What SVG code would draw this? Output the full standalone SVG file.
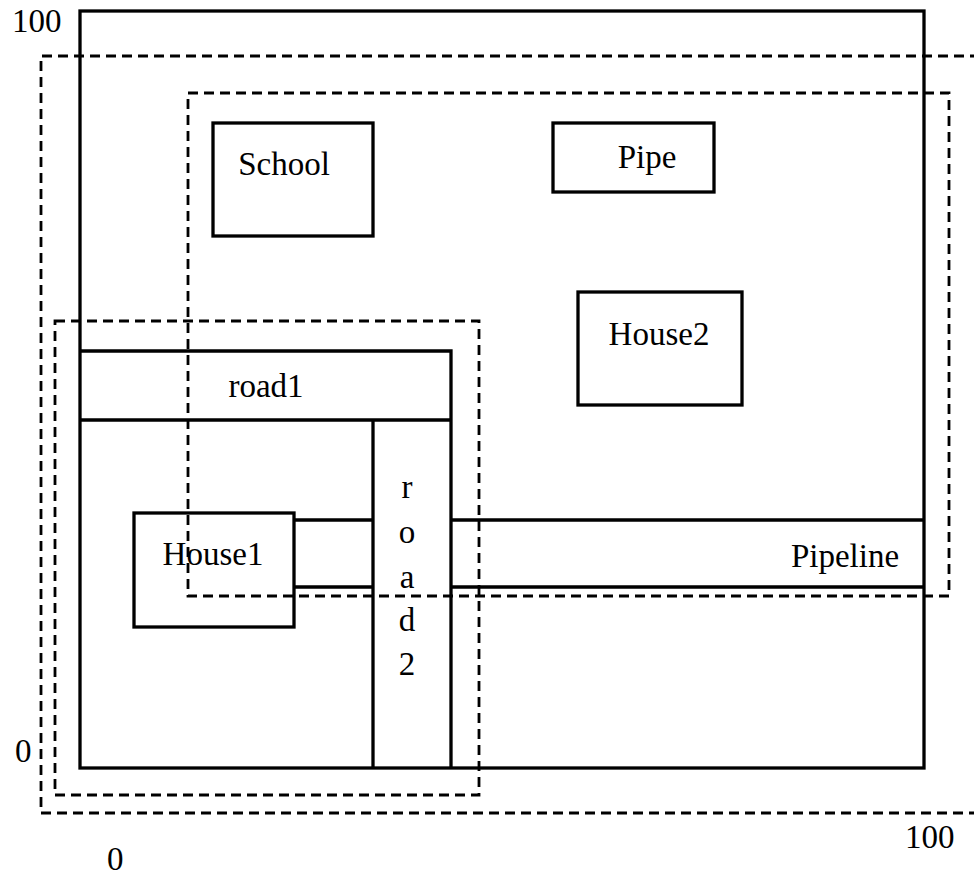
<svg xmlns="http://www.w3.org/2000/svg" width="974" height="877" viewBox="0 0 974 877">
<style>
.s{fill:none;stroke:#000;stroke-width:3.3}
.d{fill:none;stroke:#000;stroke-width:2.8;stroke-dasharray:10 6}
text{font-family:"Liberation Serif","Times New Roman",serif;font-size:33px;fill:#000}
.c{text-anchor:middle}
</style>
<rect width="974" height="877" fill="#fff"/>
<g id="region">
<rect class="s" x="80" y="11" width="844" height="757"/>
</g>
<g id="dashed-outer"><path class="d" d="M980 56 H41 V813 H980"/></g>
<g id="dashed-inner"><rect class="d" x="188" y="93" width="761" height="503"/></g>
<g id="dashed-small"><rect class="d" x="55" y="321" width="424" height="474"/></g>
<g id="road1">
<path class="s" d="M80 351 H451 V768 M80 420 H451"/>
<text class="c" x="266" y="397">road1</text>
</g>
<g id="road2">
<path class="s" d="M373 420 V768"/>
<text class="c" x="407" y="498">r</text>
<text class="c" x="407" y="543">o</text>
<text class="c" x="407" y="588">a</text>
<text class="c" x="407" y="631">d</text>
<text class="c" x="407" y="675">2</text>
</g>
<g id="pipeline">
<path class="s" d="M294 520 H373 M294 587 H373 M452 520 H924 M452 587 H924"/>
<text class="c" x="845" y="567">Pipeline</text>
</g>
<g id="school">
<rect class="s" x="213" y="123" width="160" height="113"/>
<text class="c" x="284" y="175">School</text>
</g>
<g id="pipe">
<rect class="s" x="553" y="123" width="161" height="69"/>
<text class="c" x="647" y="168">Pipe</text>
</g>
<g id="house2">
<rect class="s" x="578" y="292" width="164" height="113"/>
<text class="c" x="659" y="345">House2</text>
</g>
<g id="house1">
<rect class="s" x="134" y="513" width="160" height="114"/>
<text class="c" x="213" y="565">House1</text>
</g>
<g id="axes">
<text x="12" y="32">100</text>
<text x="15" y="762">0</text>
<text x="107" y="870">0</text>
<text x="905" y="848">100</text>
</g>
</svg>
